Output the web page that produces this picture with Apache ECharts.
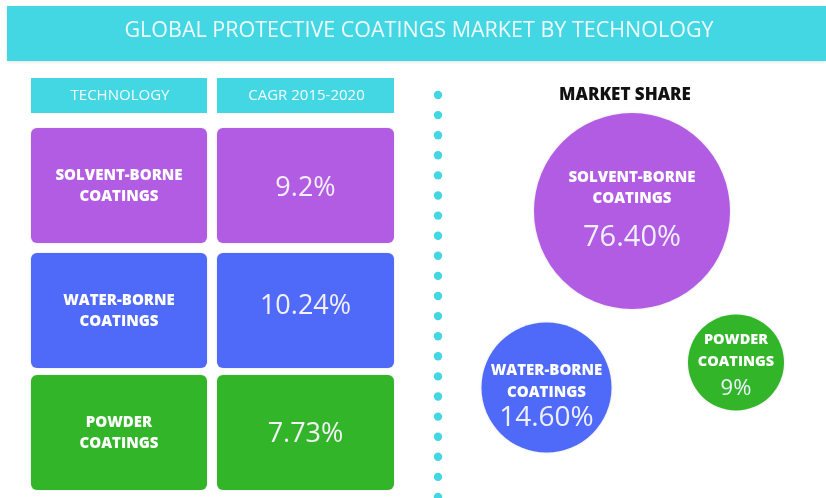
<!DOCTYPE html>
<html>
<head>
<meta charset="utf-8">
<title>Global Protective Coatings Market by Technology</title>
<script src="https://cdn.jsdelivr.net/npm/echarts@6/dist/echarts.min.js"></script>
<style>
  html, body { margin: 0; padding: 0; background: #ffffff; }
  #chart { width: 826px; height: 498px; }
</style>
</head>
<body>
<div id="chart"></div>
<script>
// ---- data ----
var title = 'GLOBAL PROTECTIVE COATINGS MARKET BY TECHNOLOGY';
var tableHeaders = ['TECHNOLOGY', 'CAGR 2015-2020'];
var technologies = ['SOLVENT-BORNE\nCOATINGS', 'WATER-BORNE\nCOATINGS', 'POWDER\nCOATINGS'];
var cagr = [9.2, 10.24, 7.73];            // % CAGR 2015-2020
var cagrText = ['9.2%', '10.24%', '7.73%'];
var shareTitle = 'MARKET SHARE';
var marketShare = [76.40, 14.60, 9];      // % market share
var shareText = ['76.40%', '14.60%', '9%'];

// ---- styles & layout ----
var colors = ['#b25be3', '#4f6af8', '#33b529'];
var cyan = '#43d6e3';
var fontBold = '"Open Sans", "Noto Sans", sans-serif';
var fontLight = '"Open Sans", "Noto Sans", sans-serif';

// bubble placement inside the right panel (pixel units of the hidden grid)
var bubbleLayout = [
  { x: 192, y: 211, size: 196 },
  { x: 106.5, y: 387.5, size: 130 },
  { x: 296, y: 362.5, size: 96 }
];

var chart = echarts.init(document.getElementById('chart'), null, { renderer: 'canvas' });

var graphics = [];

// title banner
graphics.push({
  type: 'rect',
  shape: { x: 7, y: 6, width: 819, height: 55 },
  style: { fill: cyan, shadowColor: 'rgba(0,0,0,0.12)', shadowBlur: 3, shadowOffsetY: 1 }
});
graphics.push({
  type: 'text',
  x: 419, y: 31,
  style: {
    text: title, fill: '#eefbfd', font: '500 21.5px ' + fontLight,
    align: 'center', verticalAlign: 'middle'
  }
});

// table header cells
var colX = [31, 217];
var colW = [176, 177];
tableHeaders.forEach(function (h, i) {
  graphics.push({
    type: 'rect',
    shape: { x: colX[i], y: 78, width: colW[i], height: 35 },
    style: { fill: cyan }
  });
  graphics.push({
    type: 'text',
    x: colX[i] + colW[i] / 2 + 1, y: 96,
    style: { text: h, fill: '#f4fdfe', font: '15px ' + fontLight, align: 'center', verticalAlign: 'middle' }
  });
});

// table body rows
var rowY = [128, 253, 375];
var rowH = 115;
var valueOffset = [3, -4, 2];
technologies.forEach(function (t, i) {
  graphics.push({
    type: 'rect',
    shape: { x: colX[0], y: rowY[i], width: colW[0], height: rowH, r: 6 },
    style: { fill: colors[i], shadowColor: 'rgba(0,0,0,0.15)', shadowBlur: 2 }
  });
  graphics.push({
    type: 'text',
    x: colX[0] + colW[0] / 2, y: rowY[i] + rowH / 2 + 1,
    style: {
      text: t, fill: '#ffffff', font: '800 15px ' + fontBold,
      align: 'center', verticalAlign: 'middle', lineHeight: 21
    }
  });
  graphics.push({
    type: 'rect',
    shape: { x: colX[1], y: rowY[i], width: colW[1], height: rowH, r: 6 },
    style: { fill: colors[i], shadowColor: 'rgba(0,0,0,0.15)', shadowBlur: 2 }
  });
  graphics.push({
    type: 'text',
    x: colX[1] + colW[1] / 2, y: rowY[i] + rowH / 2 + valueOffset[i],
    style: {
      text: cagrText[i], fill: '#f3f0fa', font: '27px ' + fontLight,
      align: 'center', verticalAlign: 'middle'
    }
  });
});

// dotted divider
for (var k = 0; k < 21; k++) {
  graphics.push({
    type: 'circle',
    shape: { cx: 438, cy: 95 + k * 20.1, r: 4.2 },
    style: { fill: cyan }
  });
}

// market share heading
graphics.push({
  type: 'text',
  x: 625, y: 95,
  style: { text: shareTitle, fill: '#111111', font: '800 17px ' + fontBold, align: 'center', verticalAlign: 'middle' }
});

var bubbleData = marketShare.map(function (v, i) {
  return {
    value: [bubbleLayout[i].x, bubbleLayout[i].y, v],
    symbolSize: bubbleLayout[i].size,
    itemStyle: { color: colors[i] },
    label: {
      formatter: '{t|' + technologies[i].split('\n').join('}\n{t|') + '}\n{v|' + shareText[i] + '}'
    }
  };
});

// per-bubble label tuning (line spacing differs with bubble size)
var bubbleRich = [
  { t: { fontSize: 15, lineHeight: 21 }, v: { fontSize: 29, lineHeight: 58 }, dy: 6 },
  { t: { fontSize: 15, lineHeight: 22 }, v: { fontSize: 28, lineHeight: 30 }, dy: 9 },
  { t: { fontSize: 14.5, lineHeight: 22 }, v: { fontSize: 22, lineHeight: 32 }, dy: 4 }
];
bubbleData.forEach(function (d, i) {
  d.label.offset = [0, bubbleRich[i].dy];
  d.label.rich = {
    t: { color: '#ffffff', fontFamily: fontBold, fontWeight: 800, fontSize: bubbleRich[i].t.fontSize, lineHeight: bubbleRich[i].t.lineHeight, align: 'center' },
    v: { color: '#eef0ff', fontFamily: fontLight, fontSize: bubbleRich[i].v.fontSize, lineHeight: bubbleRich[i].v.lineHeight, align: 'center' }
  };
});

chart.setOption({
  animation: false,
  backgroundColor: '#ffffff',
  grid: { left: 440, top: 0, width: 386, height: 498 },
  xAxis: { type: 'value', min: 0, max: 386, show: false },
  yAxis: { type: 'value', min: 0, max: 498, inverse: true, show: false },
  graphic: graphics,
  series: [{
    type: 'scatter',
    data: bubbleData,
    itemStyle: { opacity: 1, shadowColor: 'rgba(0,0,0,0.12)', shadowBlur: 3 },
    label: { show: true, position: 'inside', align: 'center', verticalAlign: 'middle' }
  }]
});
</script>
</body>
</html>
